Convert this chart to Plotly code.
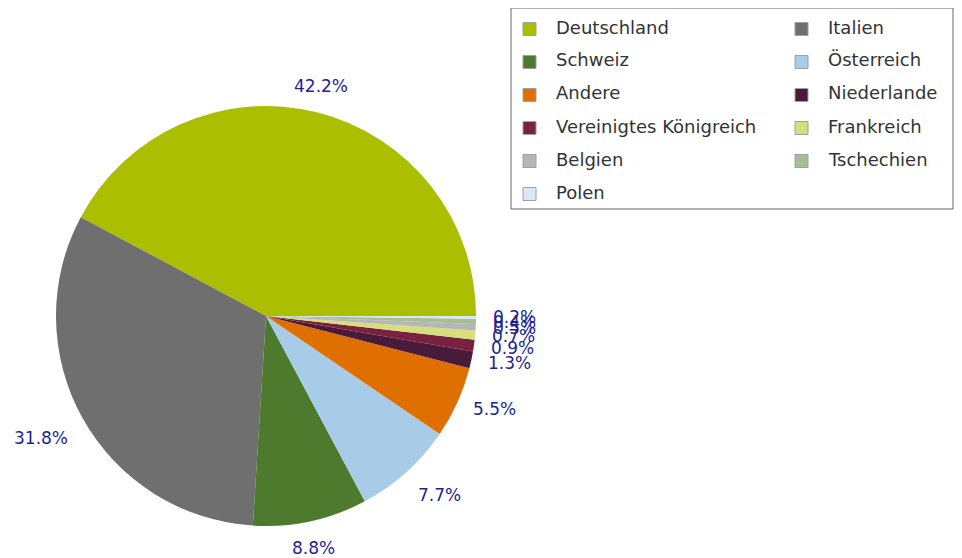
import math
import plotly.graph_objects as go

# ---- data ----
labels = ["Deutschland", "Italien", "Schweiz", "Österreich", "Andere", "Niederlande",
          "Vereinigtes Königreich", "Frankreich", "Belgien", "Tschechien", "Polen"]
values = [42.2, 31.8, 8.8, 7.7, 5.5, 1.3, 0.9, 0.7, 0.5, 0.4, 0.2]
colors = ["#abbf00", "#6f6f6f", "#4e7a2d", "#a8cce8", "#df7000", "#4a1a3b",
          "#7a2141", "#d6df7b", "#b6b6b6", "#a6bd96", "#d9e8f5"]

W, H = 962, 558
OFF = 8  # page body margin of the written html
CX, CY, R = 266 - OFF, 316 - OFF, 210  # pie centre / radius in px

def px2paper(x, y):
    return x / W, 1 - y / H

total = sum(values)
# plotly counterclockwise: first slice ends at `rotation`; make it start at 3 o'clock
rotation = 90 - values[0] / total * 360

fig = go.Figure(go.Pie(
    labels=labels, values=values, sort=False, direction="counterclockwise",
    rotation=rotation, textinfo="none", hoverinfo="label+percent",
    marker=dict(colors=colors, line=dict(width=0)),
    domain=dict(x=[(CX - R) / W, (CX + R) / W], y=[1 - (CY + R) / H, 1 - (CY - R) / H]),
    showlegend=False,
))

annotations = []
shapes = []

# percentage labels outside the slices
cum = 0.0
for v in values:
    mid = (cum + v / 2) / total * 2 * math.pi
    cum += v
    c, s = math.cos(mid), math.sin(mid)
    rr = R + 15
    x, y = px2paper(CX + rr * c, CY - rr * s)
    xa = "left" if c > 0.3 else ("right" if c < -0.3 else "center")
    ya = "bottom" if s > 0.45 else ("top" if s < -0.45 else "middle")
    annotations.append(dict(x=x, y=y, xref="paper", yref="paper", showarrow=False,
                            text=f"{v / total * 100:.1f}%", xanchor=xa, yanchor=ya,
                            font=dict(family="DejaVu Sans", size=17, color="#1f1f8f")))

# legend (two columns, row-wise)
LX0, LY0, LX1, LY1 = 511 - OFF, 8 - OFF, 953 - OFF, 209 - OFF
x0, y0 = px2paper(LX0, LY0)
x1, y1 = px2paper(LX1, LY1)
shapes.append(dict(type="rect", xref="paper", yref="paper", x0=x0, x1=x1, y0=y1, y1=y0,
                   line=dict(color="#666666", width=1), fillcolor="white", layer="below"))
for i, (lab, col) in enumerate(zip(labels, colors)):
    row, colidx = divmod(i, 2)
    sx = 523 - OFF + colidx * 272
    sy = 29 - OFF + row * 33
    a0 = px2paper(sx, sy - 6.5)
    a1 = px2paper(sx + 13, sy + 6.5)
    shapes.append(dict(type="rect", xref="paper", yref="paper", x0=a0[0], x1=a1[0],
                       y0=a1[1], y1=a0[1], fillcolor=col,
                       line=dict(color="#a0a0a0", width=1)))
    tx, ty = px2paper(sx + 31, sy - 2)
    annotations.append(dict(x=tx, y=ty, xref="paper", yref="paper", showarrow=False,
                            text=lab, xanchor="left", yanchor="middle",
                            font=dict(family="DejaVu Sans", size=18, color="#333333")))

fig.update_layout(width=W, height=H, margin=dict(l=0, r=0, t=0, b=0),
                  paper_bgcolor="white", plot_bgcolor="white",
                  annotations=annotations, shapes=shapes)
fig.write_html("out.html")
